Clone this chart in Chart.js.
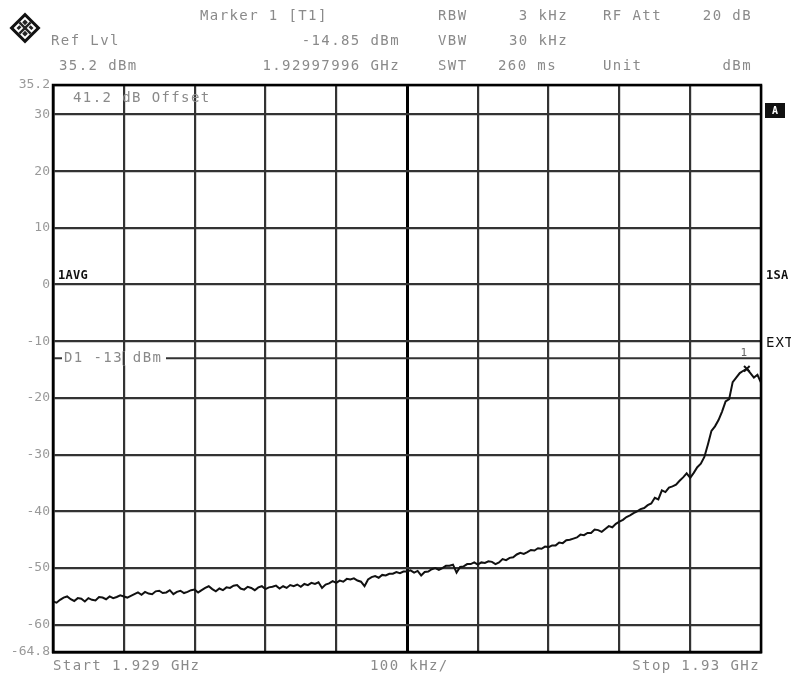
<!DOCTYPE html>
<html>
<head>
<meta charset="utf-8">
<script src="https://cdn.jsdelivr.net/npm/chart.js@4.4.1/dist/chart.umd.min.js"></script>
<style>
  body { margin: 0; background: #fff; }
  canvas { display: block; }
</style>
</head>
<body>
<canvas id="spectrum" width="791" height="678"></canvas>
<script>
// sweep 1.929 GHz .. 1.93 GHz, 100 kHz/div, one sample every 5 kHz
var sweepStepKHz = 5;
var traceDbm = [
  -55.9, -56.1, -55.6, -55.2, -55.0, -55.5, -55.8, -55.3, -55.4, -55.9, -55.3, -55.6, -55.7, -55.1, -55.2, -55.5, -55.0, -55.3, -55.1, -54.8,
  -55.0, -55.2, -54.9, -54.6, -54.3, -54.7, -54.2, -54.5, -54.6, -54.1, -54.0, -54.4, -54.3, -53.9, -54.6, -54.2, -54.0, -54.4, -54.2, -53.9,
  -53.8, -54.3, -53.9, -53.5, -53.2, -53.7, -54.1, -53.6, -53.9, -53.4, -53.5, -53.1, -53.0, -53.6, -53.8, -53.3, -53.5, -53.9, -53.4, -53.2,
  -53.7, -53.4, -53.3, -53.1, -53.6, -53.2, -53.5, -53.0, -53.2, -52.9, -53.3, -52.8, -53.0, -52.6, -52.8, -52.5, -53.5, -52.9, -52.7, -52.3,
  -52.6, -52.2, -52.4, -51.9, -52.0, -51.8, -52.2, -52.4, -53.2, -52.0, -51.6, -51.4, -51.7, -51.2, -51.3, -51.0, -51.0, -50.7, -50.9, -50.6,
  -50.6, -50.4, -50.8, -50.5, -51.3, -50.7, -50.6, -50.2, -50.0, -50.3, -50.0, -49.6, -49.6, -49.4, -50.8, -49.8, -49.7, -49.3, -49.3, -49.0,
  -49.4, -49.0, -49.1, -48.8, -48.9, -49.3, -49.0, -48.4, -48.6, -48.2, -48.1, -47.6, -47.3, -47.5, -47.2, -46.8, -46.9, -46.5, -46.6, -46.2,
  -46.3, -46.0, -46.0, -45.5, -45.6, -45.1, -45.0, -44.8, -44.6, -44.1, -44.2, -43.8, -43.8, -43.2, -43.3, -43.6, -43.1, -42.6, -42.8, -42.2,
  -41.8, -41.5, -41.0, -40.7, -40.3, -40.0, -39.6, -39.4, -38.9, -38.6, -37.6, -37.9, -36.3, -36.6, -35.8, -35.6, -35.3, -34.6, -34.0, -33.3,
  -34.1, -33.2, -32.2, -31.6, -30.4, -28.2, -25.8, -25.0, -23.9, -22.4, -20.6, -20.2, -17.2, -16.4, -15.6, -15.2, -14.85, -15.6, -16.4, -15.9,
  -17.3
];
var yTickValues = [35.2, 30, 20, 10, 0, -10, -20, -30, -40, -50, -60, -64.8];
var displayLineDbm = -13;
var markerKHz = 980;
var markerDbm = -14.85;

var tracePoints = traceDbm.map(function(v, i) { return { x: i * sweepStepKHz, y: v }; });

var TXT = '#8a8a8a';
var MONO = '"DejaVu Sans Mono", "Liberation Mono", monospace';

function put(ctx, s, x, y, opts) {
  opts = opts || {};
  ctx.save();
  ctx.font = (opts.weight || '') + ' ' + (opts.size || 14) + 'px ' + MONO;
  ctx.letterSpacing = (opts.spacing == null ? 1.4 : opts.spacing) + 'px';
  ctx.fillStyle = opts.color || TXT;
  ctx.textBaseline = 'middle';
  ctx.textAlign = opts.align || 'left';
  ctx.fillText(s, x, y);
  ctx.restore();
}

var decor = {
  id: 'decor',
  afterDraw: function(chart) {
    var ctx = chart.ctx, a = chart.chartArea;
    var xs = chart.scales.x, ys = chart.scales.y;

    // frame
    ctx.save();
    ctx.strokeStyle = '#000';
    ctx.lineWidth = 2.5;
    ctx.strokeRect(a.left, a.top, a.right - a.left, a.bottom - a.top);
    ctx.restore();

    // logo
    ctx.save();
    ctx.translate(25, 28);
    ctx.rotate(Math.PI / 4);
    ctx.fillStyle = '#111';
    ctx.fillRect(-11, -11, 22, 22);
    ctx.fillStyle = '#fff';
    ctx.fillRect(-8, -8, 16, 16);
    ctx.fillStyle = '#222';
    ctx.fillRect(-8, -1.2, 16, 2.4);
    ctx.fillRect(-1.2, -8, 2.4, 16);
    ctx.fillRect(-6, -6, 4, 4);
    ctx.fillRect(2, 2, 4, 4);
    ctx.fillRect(2, -6, 4, 3);
    ctx.fillRect(-6, 2, 3, 4);
    ctx.restore();

    // header
    put(ctx, 'Marker 1 [T1]', 200, 16);
    put(ctx, 'Ref Lvl', 51, 41);
    put(ctx, '-14.85 dBm', 400, 41, { align: 'right' });
    put(ctx, '35.2 dBm', 59, 66);
    put(ctx, '1.92997996 GHz', 400, 66, { align: 'right' });
    put(ctx, 'RBW', 438, 16);
    put(ctx, '3 kHz', 568, 16, { align: 'right' });
    put(ctx, 'VBW', 438, 41);
    put(ctx, '30 kHz', 568, 41, { align: 'right' });
    put(ctx, 'SWT', 438, 66);
    put(ctx, '260 ms', 498, 66);
    put(ctx, 'RF Att', 603, 16);
    put(ctx, '20 dB', 752, 16, { align: 'right' });
    put(ctx, 'Unit', 603, 66);
    put(ctx, 'dBm', 752, 66, { align: 'right' });

    // footer
    put(ctx, 'Start 1.929 GHz', 53, 666);
    put(ctx, '100 kHz/', 370, 666);
    put(ctx, 'Stop 1.93 GHz', 760, 666, { align: 'right' });

    // in-grid notes
    put(ctx, '41.2 dB Offset', 73, 98);
    put(ctx, '1AVG', 58, 276, { color: '#111', weight: 'bold', size: 12, spacing: 0.3 });
    put(ctx, '1SA', 766, 276, { color: '#111', weight: 'bold', size: 12, spacing: 0.3 });
    put(ctx, 'EXT', 766, 343, { color: '#111', size: 14, spacing: 1 });

    // "A" box
    ctx.save();
    ctx.fillStyle = '#111';
    ctx.fillRect(765, 103, 20, 15);
    ctx.restore();
    put(ctx, 'A', 775, 111, { color: '#fff', weight: 'bold', size: 10, spacing: 0, align: 'center' });

    // display line label (line broken behind text, grid line kept)
    var yD = ys.getPixelForValue(displayLineDbm);
    var xg = xs.getPixelForValue(100);
    ctx.save();
    ctx.fillStyle = '#fff';
    ctx.fillRect(62, yD - 7, 104, 14);
    ctx.strokeStyle = '#333';
    ctx.lineWidth = 2.2;
    ctx.beginPath();
    ctx.moveTo(xg, yD - 7);
    ctx.lineTo(xg, yD + 7);
    ctx.stroke();
    ctx.restore();
    put(ctx, 'D1 -13 dBm', 64, yD);

    // marker label
    put(ctx, '1', xs.getPixelForValue(markerKHz) - 3, ys.getPixelForValue(markerDbm) - 16, { size: 11, spacing: 0, color: '#666', align: 'center' });
  }
};

var ctx = document.getElementById('spectrum').getContext('2d');
var chart = new Chart(ctx, {
  type: 'line',
  data: {
    datasets: [{
      label: 'Trace 1',
      data: tracePoints,
      borderColor: '#111',
      borderWidth: 2,
      pointRadius: 0,
      tension: 0,
      fill: false
    }, {
      label: 'D1',
      data: [{ x: 0, y: displayLineDbm }, { x: 1000, y: displayLineDbm }],
      borderColor: '#333',
      borderWidth: 2,
      pointRadius: 0,
      fill: false
    }, {
      label: 'Marker 1',
      data: [{ x: markerKHz, y: markerDbm }],
      showLine: false,
      pointStyle: 'crossRot',
      pointRadius: 4,
      borderColor: '#111',
      borderWidth: 2
    }]
  },
  options: {
    responsive: false,
    animation: false,
    devicePixelRatio: 1,
    layout: { padding: { left: 0, right: 30, top: 85, bottom: 0 } },
    plugins: { legend: { display: false }, tooltip: { enabled: false } },
    scales: {
      x: {
        type: 'linear',
        min: 0,
        max: 1000,
        ticks: { display: false, stepSize: 100 },
        grid: {
          drawTicks: false,
          color: function(c) { return c.tick && c.tick.value === 500 ? '#000' : '#333'; },
          lineWidth: function(c) { return c.tick && c.tick.value === 500 ? 3 : 2.2; }
        },
        border: { color: '#000', width: 2.5 },
        afterFit: function(scale) { scale.height = 26; }
      },
      y: {
        min: -64.8,
        max: 35.2,
        afterBuildTicks: function(scale) {
          scale.ticks = yTickValues.map(function(v) { return { value: v }; });
        },
        ticks: {
          color: '#999',
          padding: 3,
          font: { family: 'DejaVu Sans Mono', size: 13 },
          callback: function(v) { return String(v); }
        },
        grid: { drawTicks: false, color: '#333', lineWidth: 2.2 },
        border: { color: '#000', width: 2.5 },
        afterFit: function(scale) { scale.width = 53; }
      }
    }
  },
  plugins: [decor]
});
</script>
</body>
</html>
